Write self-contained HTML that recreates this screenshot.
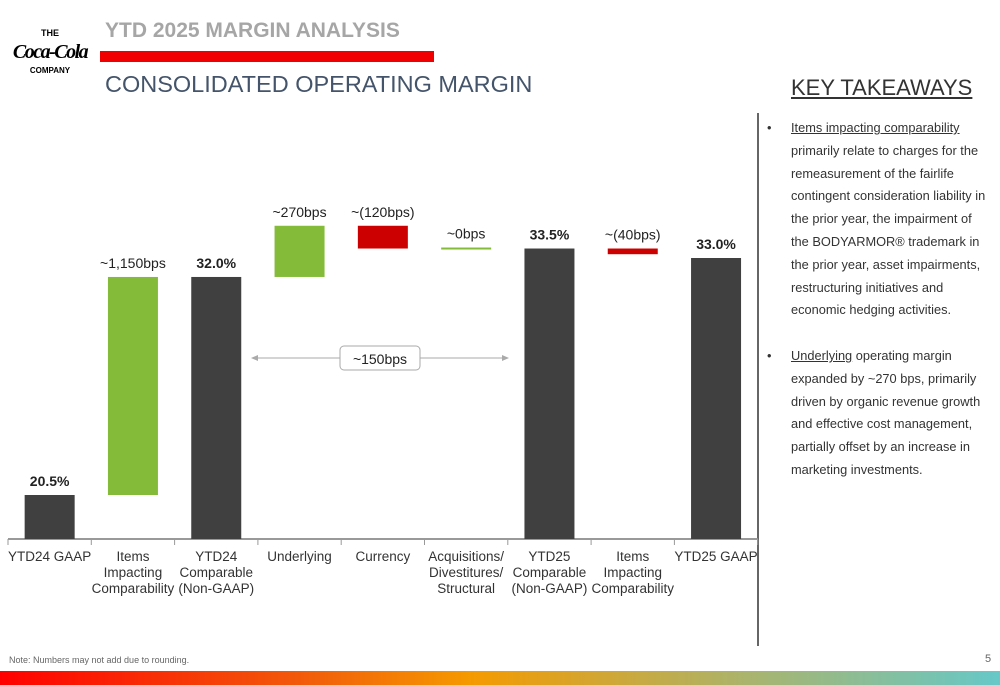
<!DOCTYPE html>
<html><head><meta charset="utf-8"><style>
body{margin:0;width:1000px;height:685px;background:#fff;font-family:"Liberation Sans",sans-serif;position:relative;overflow:hidden}
.abs{position:absolute}
</style></head><body>
<div class="abs" style="left:6px;top:28px;width:88px;height:60px;text-align:center;white-space:nowrap">
<div style="font-size:9px;font-weight:bold">THE</div>
<div style="font-family:'Liberation Serif',serif;font-style:italic;font-weight:bold;font-size:20px;line-height:28px;letter-spacing:-1.5px">Coca-Cola</div>
<div style="font-size:8px;font-weight:bold">COMPANY</div></div>
<div class="abs" style="left:105px;top:19px;font-size:21px;font-weight:bold;color:#a6a6a6">YTD 2025 MARGIN ANALYSIS</div>
<div class="abs" style="left:100px;top:51px;width:334px;height:11px;background:#f00000"></div>
<div class="abs" style="left:105px;top:71px;font-size:23.5px;color:#44546a">CONSOLIDATED OPERATING MARGIN</div>
<div class="abs" style="left:791px;top:75px;font-size:22px;color:#333;text-decoration:underline">KEY TAKEAWAYS</div>
<div class="abs" style="left:757px;top:113px;width:2px;height:533px;background:#666"></div>
<div class="abs" style="left:767px;top:117px;width:225px;font-size:12.8px;line-height:22.8px;color:#333">
<div style="position:relative;padding-left:24px"><span style="position:absolute;left:0">•</span><u>Items impacting comparability</u> primarily relate to charges for the remeasurement of the fairlife contingent consideration liability in the prior year, the impairment of the BODYARMOR® trademark in the prior year, asset impairments, restructuring initiatives and economic hedging activities.</div>
<div style="position:relative;padding-left:24px;margin-top:22.8px"><span style="position:absolute;left:0">•</span><u>Underlying</u> operating margin expanded by ~270 bps, primarily driven by organic revenue growth and effective cost management, partially offset by an increase in marketing investments.</div></div>
<svg class="abs" style="left:0;top:0" width="760" height="610" id="chart"></svg>
<div class="abs" style="left:9px;top:655px;font-size:9px;color:#666">Note: Numbers may not add due to rounding.</div>
<div class="abs" style="left:985px;top:653px;font-size:11px;color:#666">5</div>
<div class="abs" style="left:0;top:671px;width:1000px;height:14px;background:linear-gradient(90deg,#f00 0%,#f25a0a 30%,#f59a00 47%,#a9b46e 75%,#66c8c8 100%)"></div>
<script>
const categories=[["YTD24 GAAP"],["Items","Impacting","Comparability"],["YTD24","Comparable","(Non-GAAP)"],["Underlying"],["Currency"],["Acquisitions/","Divestitures/","Structural"],["YTD25","Comparable","(Non-GAAP)"],["Items","Impacting","Comparability"],["YTD25 GAAP"]];
const starts=[null,20.5,null,32.0,34.7,33.5,null,33.5,null];
const ends=[20.5,32.0,32.0,34.7,33.5,33.5,33.5,33.2,33.0];
const kinds=["total","up","total","up","down","flat","total","down","total"];
const labels=["20.5%","~1,150bps","32.0%","~270bps","~(120bps)","~0bps","33.5%","~(40bps)","33.0%"];
const svg=document.getElementById('chart');const NS='http://www.w3.org/2000/svg';
const base=539,ppt=18.96;
const y=v=>495-(v-20.5)*ppt;
const x0=8,step=83.3,bw=50;
const cx=i=>x0+step*(i+0.5);
function mk(t,a){const e=document.createElementNS(NS,t);for(const k in a)e.setAttribute(k,a[k]);svg.appendChild(e);return e;}
const ax=mk('line',{x1:x0,x2:x0+step*9,y1:base,y2:base,stroke:'#999','stroke-width':2});

for(let i=0;i<=9;i++){const t=mk('line',{x1:x0+step*i,x2:x0+step*i,y1:base,y2:base+6,stroke:'#999'});}
categories.forEach((c,i)=>{
 const e=ends[i],s=starts[i];
 let top,bot,col;
 if(kinds[i]==='total'){top=y(e);bot=base;col='#404040';}
 else if(kinds[i]==='flat'){top=y(e)-1;bot=y(e)+1;col='#84bc3a';}
 else{top=y(Math.max(s,e));bot=y(Math.min(s,e));col=kinds[i]==='up'?'#84bc3a':'#cc0000';}
 const r=mk('rect',{x:cx(i)-bw/2,y:top,width:bw,height:Math.max(bot-top,2),fill:col});
 
 const bold=kinds[i]==='total';
 const l=mk('text',{x:cx(i),y:top-9,'text-anchor':'middle','font-size':14,'font-weight':bold?'bold':'normal',fill:'#222','font-family':'Liberation Sans'});
 l.textContent=labels[i];
 c.forEach((ln,j)=>{const t=mk('text',{x:cx(i),y:561+j*16,'text-anchor':'middle','font-size':13.5,fill:'#333','font-family':'Liberation Sans'});t.textContent=ln;});
});
const ar=mk('g',{});
mk('line',{x1:256,x2:340,y1:358,y2:358,stroke:'#aaa'});mk('line',{x1:420,x2:504,y1:358,y2:358,stroke:'#aaa'});
mk('polygon',{points:'251,358 258,355 258,361',fill:'#aaa'});mk('polygon',{points:'509,358 502,355 502,361',fill:'#aaa'});
mk('rect',{x:340,y:346,width:80,height:24,rx:4,fill:'#fff',stroke:'#aaa'});
const bt=mk('text',{x:380,y:364,'text-anchor':'middle','font-size':14,fill:'#222','font-family':'Liberation Sans'});bt.textContent='~150bps';

</script>
</body></html>
